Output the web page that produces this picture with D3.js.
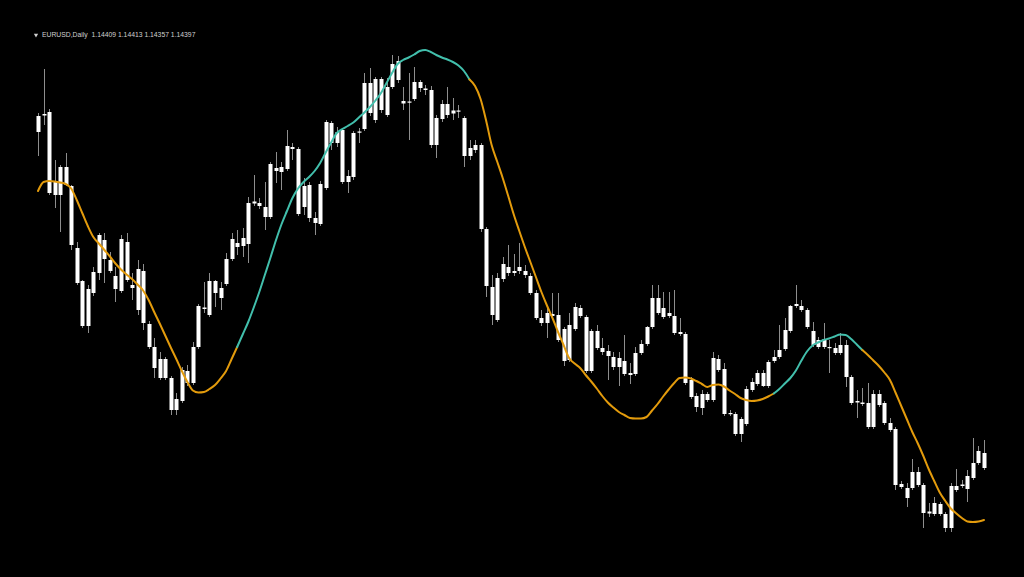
<!DOCTYPE html>
<html>
<head>
<meta charset="utf-8">
<script src="https://cdn.jsdelivr.net/npm/d3@7"></script>
<style>
  html, body { margin: 0; padding: 0; background: #000; overflow: hidden; }
  svg { display: block; }
</style>
</head>
<body>
<svg id="chart" width="1024" height="577"></svg>
<script>
// ---- data: EURUSD daily candles ----
const symbol = "EURUSD,Daily";
const lastQuote = ["1.14409", "1.14413", "1.14357", "1.14397"];

const open = [
1.2108,1.2144,1.2148,1.1982,1.1982,1.2038,1.2000,1.1876,1.1810,1.1720,
1.1786,1.1826,1.1892,1.1852,1.1794,1.1790,1.1888,1.1802,1.1834,1.1830,
1.1724,1.1678,1.1616,1.1654,1.1616,1.1552,1.1570,1.1630,1.1606,1.1678,
1.1757,1.1742,1.1810,1.1776,1.1804,1.1854,1.1886,1.1880,1.1884,1.1965,
1.1966,1.1958,1.1938,1.2036,1.2028,1.2034,1.2078,1.2074,1.1958,1.2002,
1.1936,1.1924,1.1996,1.2126,1.2086,1.2112,1.2008,1.2018,1.2109,1.2114,
1.2206,1.2132,1.2214,1.2142,1.2198,1.2250,1.2170,1.2167,1.2174,1.2208,
1.2195,1.2192,1.2082,1.2134,1.2164,1.2145,1.2151,1.2136,1.2060,1.2072,
1.2082,1.1914,1.1798,1.1732,1.1814,1.1838,1.1826,1.1830,1.1830,1.1820,
1.1786,1.1736,1.1726,1.1744,1.1742,1.1714,1.1652,1.1714,1.1756,1.1738,
1.1630,1.1710,1.1676,1.1670,1.1658,1.1638,1.1650,1.1622,1.1624,1.1666,
1.1684,1.1718,1.1776,1.1756,1.1740,1.1740,1.1708,1.1704,1.1612,1.1580,
1.1556,1.1584,1.1572,1.1654,1.1634,1.1544,1.1544,1.1504,1.1524,1.1592,
1.1604,1.1626,1.1600,1.1650,1.1658,1.1674,1.1710,1.1760,1.1760,1.1752,
1.1710,1.1678,1.1694,1.1678,1.1676,1.1666,1.1682,1.1618,1.1570,1.1567,
1.1566,1.1518,1.1584,1.1566,1.1526,1.1514,1.1404,1.1396,1.1396,1.1428,
1.1402,1.1345,1.1344,1.1364,1.1344,1.1316,1.1400,1.1400,1.1394,1.1416,
1.1446,1.1466];

const high = [
1.2146,1.2234,1.2154,1.2052,1.2042,1.2066,1.2002,1.1888,1.1812,1.1802,
1.1838,1.1906,1.1906,1.1868,1.1838,1.1902,1.1906,1.1826,1.1852,1.1844,
1.1730,1.1696,1.1668,1.1658,1.1620,1.1586,1.1638,1.1642,1.1688,1.1764,
1.1808,1.1826,1.1812,1.1808,1.1866,1.1906,1.1912,1.1916,1.1978,1.2022,
1.1976,1.2008,1.2048,1.2068,1.2048,1.2112,1.2086,1.2078,1.2016,1.2008,
1.1948,1.2010,1.2132,1.2130,1.2118,1.2116,1.2032,1.2110,1.2116,1.2226,
1.2236,1.2218,1.2218,1.2216,1.2262,1.2260,1.2198,1.2226,1.2238,1.2212,
1.2202,1.2200,1.2142,1.2172,1.2198,1.2176,1.2162,1.2140,1.2092,1.2092,
1.2086,1.1918,1.1822,1.1826,1.1858,1.1882,1.1864,1.1886,1.1842,1.1826,
1.1792,1.1752,1.1758,1.1786,1.1786,1.1718,1.1746,1.1766,1.1762,1.1742,
1.1714,1.1722,1.1696,1.1682,1.1668,1.1668,1.1702,1.1646,1.1678,1.1692,
1.1720,1.1802,1.1802,1.1788,1.1788,1.1792,1.1736,1.1708,1.1618,1.1586,
1.1592,1.1588,1.1668,1.1662,1.1646,1.1552,1.1548,1.1538,1.1600,1.1616,
1.1632,1.1632,1.1652,1.1672,1.1722,1.1736,1.1762,1.1802,1.1772,1.1756,
1.1728,1.1698,1.1726,1.1692,1.1686,1.1706,1.1692,1.1622,1.1592,1.1596,
1.1606,1.1592,1.1592,1.1570,1.1536,1.1518,1.1410,1.1406,1.1454,1.1438,
1.1406,1.1366,1.1378,1.1368,1.1348,1.1406,1.1434,1.1412,1.1432,1.1496,
1.1480,1.1492];

const low = [
1.2060,1.2122,1.1982,1.1956,1.1908,1.2000,1.1872,1.1802,1.1716,1.1706,
1.1780,1.1812,1.1806,1.1826,1.1768,1.1786,1.1808,1.1772,1.1742,1.1712,
1.1674,1.1616,1.1612,1.1612,1.1542,1.1542,1.1566,1.1600,1.1602,1.1674,
1.1746,1.1738,1.1758,1.1752,1.1800,1.1850,1.1862,1.1858,1.1846,1.1960,
1.1954,1.1912,1.1934,1.2006,1.1992,1.2030,1.2052,1.1940,1.1942,1.1928,
1.1902,1.1920,1.1992,1.2072,1.2078,1.2004,1.1986,1.2012,1.2086,1.2110,
1.2140,1.2126,1.2146,1.2138,1.2194,1.2206,1.2152,1.2092,1.2170,1.2188,
1.2182,1.2076,1.2056,1.2128,1.2136,1.2132,1.2136,1.2038,1.2052,1.2066,
1.1908,1.1778,1.1722,1.1728,1.1808,1.1820,1.1820,1.1824,1.1816,1.1782,
1.1732,1.1720,1.1696,1.1732,1.1688,1.1640,1.1648,1.1710,1.1736,1.1626,
1.1626,1.1672,1.1662,1.1612,1.1632,1.1600,1.1620,1.1604,1.1620,1.1662,
1.1680,1.1714,1.1742,1.1734,1.1736,1.1702,1.1700,1.1602,1.1574,1.1548,
1.1542,1.1568,1.1568,1.1628,1.1540,1.1540,1.1500,1.1488,1.1520,1.1588,
1.1600,1.1598,1.1596,1.1646,1.1654,1.1670,1.1706,1.1756,1.1748,1.1714,
1.1678,1.1674,1.1674,1.1626,1.1662,1.1662,1.1598,1.1562,1.1536,1.1560,
1.1514,1.1514,1.1558,1.1522,1.1508,1.1392,1.1394,1.1358,1.1392,1.1398,
1.1316,1.1338,1.1340,1.1340,1.1308,1.1308,1.1388,1.1396,1.1368,1.1412,
1.1442,1.1432];

const close = [
1.2140,1.2141,1.1986,1.2008,1.2038,1.2002,1.1882,1.1806,1.1720,1.1794,
1.1828,1.1902,1.1854,1.1830,1.1820,1.1894,1.1812,1.1796,1.1752,1.1726,
1.1678,1.1636,1.1654,1.1616,1.1552,1.1574,1.1632,1.1606,1.1678,1.1760,
1.1754,1.1810,1.1786,1.1796,1.1854,1.1894,1.1878,1.1896,1.1966,1.1969,
1.1960,1.1938,1.2044,1.2030,1.2038,1.2080,1.2074,1.1944,1.2000,1.1936,
1.1926,1.2004,1.2128,1.2086,1.2108,1.2008,1.2020,1.2106,1.2107,1.2206,
1.2146,1.2214,1.2152,1.2198,1.2244,1.2212,1.2165,1.2169,1.2208,1.2196,
1.2192,1.2082,1.2136,1.2164,1.2142,1.2151,1.2149,1.2060,1.2076,1.2082,
1.1914,1.1800,1.1742,1.1816,1.1844,1.1826,1.1830,1.1838,1.1822,1.1786,
1.1736,1.1726,1.1746,1.1740,1.1692,1.1650,1.1722,1.1758,1.1740,1.1630,
1.1710,1.1676,1.1668,1.1660,1.1638,1.1656,1.1624,1.1626,1.1666,1.1684,
1.1718,1.1776,1.1746,1.1738,1.1746,1.1706,1.1704,1.1606,1.1578,1.1558,
1.1584,1.1572,1.1656,1.1632,1.1544,1.1546,1.1504,1.1534,1.1594,1.1608,
1.1626,1.1600,1.1648,1.1658,1.1672,1.1712,1.1760,1.1764,1.1752,1.1718,
1.1682,1.1692,1.1678,1.1676,1.1666,1.1682,1.1618,1.1566,1.1567,1.1564,
1.1518,1.1584,1.1562,1.1526,1.1512,1.1402,1.1398,1.1376,1.1428,1.1402,
1.1346,1.1349,1.1366,1.1344,1.1316,1.1400,1.1392,1.1403,1.1420,1.1446,
1.1470,1.1436];

// smoothed moving average (indicator line)
const ma = [
1.1990,1.2008,1.2010,1.2009,1.2007,1.2004,1.1995,1.1972,1.1946,1.1920,
1.1898,1.1885,1.1872,1.1859,1.1845,1.1833,1.1823,1.1814,1.1803,1.1791,
1.1772,1.1748,1.1725,1.1701,1.1677,1.1654,1.1630,1.1608,1.1591,1.1587,
1.1588,1.1594,1.1602,1.1615,1.1630,1.1654,1.1678,1.1703,1.1728,1.1757,
1.1788,1.1822,1.1856,1.1891,1.1923,1.1950,1.1976,1.1995,1.2008,1.2018,
1.2030,1.2046,1.2067,1.2087,1.2106,1.2114,1.2120,1.2127,1.2137,1.2147,
1.2158,1.2171,1.2186,1.2206,1.2226,1.2244,1.2252,1.2257,1.2263,1.2270,
1.2272,1.2268,1.2262,1.2257,1.2253,1.2248,1.2241,1.2230,1.2213,1.2200,
1.2174,1.2131,1.2082,1.2049,1.2016,1.1980,1.1943,1.1910,1.1878,1.1848,
1.1818,1.1788,1.1761,1.1736,1.1708,1.1682,1.1656,1.1645,1.1636,1.1622,
1.1609,1.1595,1.1580,1.1567,1.1557,1.1548,1.1542,1.1536,1.1535,1.1535,
1.1538,1.1551,1.1564,1.1579,1.1593,1.1606,1.1616,1.1617,1.1615,1.1610,
1.1604,1.1598,1.1602,1.1603,1.1599,1.1591,1.1584,1.1576,1.1572,1.1570,
1.1571,1.1574,1.1579,1.1585,1.1594,1.1605,1.1616,1.1631,1.1651,1.1669,
1.1681,1.1687,1.1692,1.1695,1.1699,1.1703,1.1702,1.1694,1.1683,1.1672,
1.1662,1.1651,1.1640,1.1627,1.1612,1.1587,1.1561,1.1535,1.1509,1.1486,
1.1461,1.1434,1.1410,1.1387,1.1370,1.1355,1.1345,1.1336,1.1329,1.1328,
1.1329,1.1332];

// indicator trend state: bar index where each run begins, and its direction
const trendStart = [0, 36, 78, 133, 149];
const trendDir   = ["down", "up", "down", "up", "down"];

// ---- drawing ----
const W = 1024, H = 577;
const svg = d3.select("#chart");
svg.append("rect").attr("width", W).attr("height", H).attr("fill", "#000");

const n = close.length;
const x = d3.scaleLinear().domain([0, n - 1]).range([38, 984]);
const y = d3.scaleLinear().domain([1.1218, 1.2372]).range([H, 0]);

const bars = d3.range(n).map(i => ({i, o: open[i], h: high[i], l: low[i], c: close[i]}));

const gC = svg.append("g");
// wicks
gC.selectAll("line.wick").data(bars).join("line")
  .attr("class", "wick")
  .attr("x1", d => Math.round(x(d.i)) + 0.5)
  .attr("x2", d => Math.round(x(d.i)) + 0.5)
  .attr("y1", d => y(d.h))
  .attr("y2", d => y(d.l))
  .attr("stroke", "#8e8e8e")
  .attr("stroke-width", 1);
// bodies
gC.selectAll("rect.body").data(bars).join("rect")
  .attr("class", "body")
  .attr("x", d => Math.round(x(d.i)) - 1.5)
  .attr("width", 4)
  .attr("y", d => y(Math.max(d.o, d.c)))
  .attr("height", d => Math.max(1.2, Math.abs(y(d.o) - y(d.c))))
  .attr("fill", "#ffffff");

// indicator line, coloured by trend run
const colorFor = {up: "#42bfac", down: "#e39b0c"};
const lineGen = d3.line().x(d => x(d.i)).y(d => y(d.v)).curve(d3.curveMonotoneX);
const gL = svg.append("g");
trendStart.forEach((s, k) => {
  const e = k + 1 < trendStart.length ? trendStart[k + 1] : n - 1;
  const pts = d3.range(s, e + 1).map(i => ({i, v: ma[i]}));
  gL.append("path")
    .attr("d", lineGen(pts))
    .attr("fill", "none")
    .attr("stroke", colorFor[trendDir[k]])
    .attr("stroke-width", 2)
    .attr("stroke-linejoin", "round")
    .attr("stroke-linecap", "round");
});

// header
const hdr = svg.append("g").attr("transform", "translate(36,37)");
hdr.append("path").attr("d", d3.symbol().type(d3.symbolTriangle).size(8)())
  .attr("transform", "translate(0,-2) rotate(180)").attr("fill", "#cfcfcf");
hdr.append("text")
  .attr("x", 6).attr("y", 0)
  .attr("fill", "#d0d0d0")
  .attr("font-family", "'Liberation Sans', Arial, sans-serif")
  .attr("font-size", 6.8)
  .attr("xml:space", "preserve")
  .text(symbol + "  " + lastQuote.join(" "));
</script>
</body>
</html>
